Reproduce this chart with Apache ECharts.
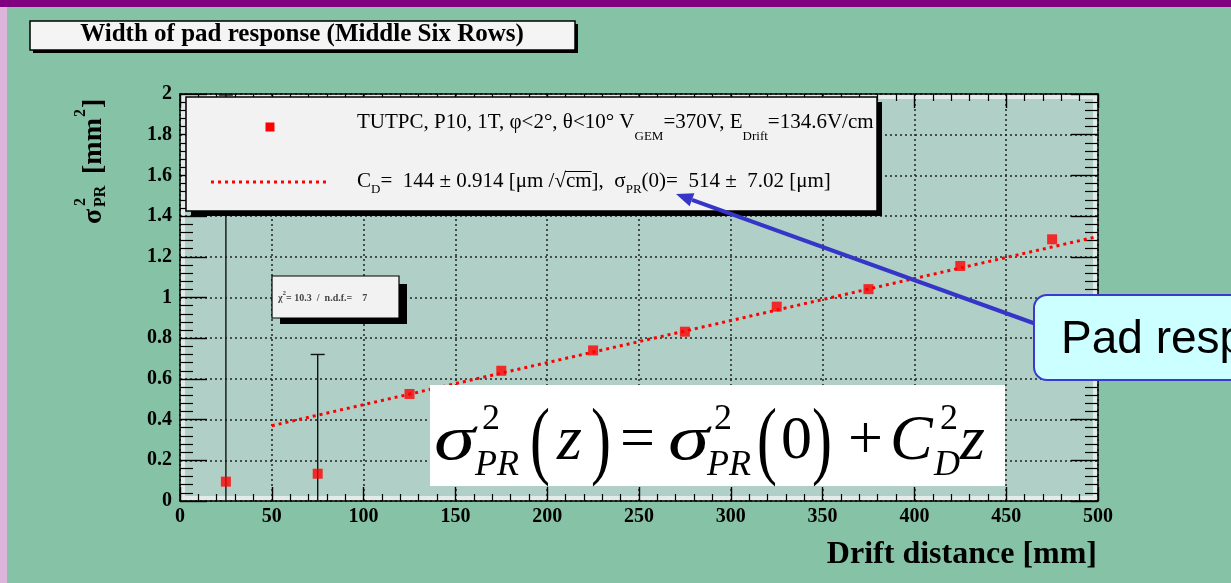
<!DOCTYPE html>
<html>
<head>
<meta charset="utf-8">
<title>Width of pad response (Middle Six Rows)</title>
<script src="https://cdn.jsdelivr.net/npm/echarts@6/dist/echarts.min.js"></script>
<style>
  html, body { margin: 0; padding: 0; background: #85c2a6; }
  #chart { width: 1231px; height: 583px; }
</style>
</head>
<body>
<div id="chart"></div>
<script>
// Measured pad-response width squared vs. drift distance
const driftMm   = [25, 75, 125, 175, 225, 275, 325, 375, 425, 475];
const sigmaSq   = [0.095, 0.134, 0.526, 0.640, 0.740, 0.832, 0.955, 1.041, 1.155, 1.286];
const sigmaErr  = [1.90, 0.586, 0.006, 0.006, 0.006, 0.006, 0.006, 0.006, 0.006, 0.006];

// Straight-line fit sigma^2(z) = sigma^2(0) + C_D^2 z, end points of the drawn range
const fitX = [50, 500];
const fitY = [0.37, 1.30];

// Axis ranges and tick spacing
const xRange = [0, 500], xStep = 50;
const yRange = [0, 2], yStep = 0.2;

const SERIF = '"Liberation Serif", "Times New Roman", serif';
const SANS = '"Liberation Sans", Arial, sans-serif';

// plot frame in pixels
const G = { left: 180, top: 94, width: 918, height: 407 };

const chart = echarts.init(document.getElementById('chart'), null, { renderer: 'canvas' });

const measureCtx = document.createElement('canvas').getContext('2d');
function textWidth(font, s) { measureCtx.font = font; return measureCtx.measureText(s).width; }

const axisCommon = {
  type: 'value',
  z: 3,
  axisLine: { show: true, onZero: false, lineStyle: { color: '#000', width: 1.5 } },
  splitLine: { show: false },
  axisLabel: { show: false }
};

const xBottom = Object.assign({}, axisCommon, {
  position: 'bottom', min: xRange[0], max: xRange[1], interval: xStep,
  axisTick: { show: true, inside: true, length: 14, lineStyle: { color: '#000', width: 1.4 } },
  minorTick: { show: true, splitNumber: 5, length: 7, lineStyle: { color: '#000', width: 1.2 } },
  splitLine: { show: true, lineStyle: { color: '#222', width: 1.5, type: [2, 3] } },
  axisLabel: { show: true, margin: 6, color: '#000', fontFamily: SERIF, fontWeight: 'bold', fontSize: 20 }
});
const xTop = Object.assign({}, axisCommon, {
  position: 'top', min: xRange[0], max: xRange[1], interval: xStep,
  axisTick: { show: true, inside: true, length: 14, lineStyle: { color: '#000', width: 1.4 } },
  minorTick: { show: true, splitNumber: 5, length: 7, lineStyle: { color: '#000', width: 1.2 } }
});
const yLeft = Object.assign({}, axisCommon, {
  position: 'left', min: yRange[0], max: yRange[1], interval: yStep,
  axisTick: { show: true, inside: true, length: 27, lineStyle: { color: '#000', width: 1.4 } },
  minorTick: { show: true, splitNumber: 5, length: 13, lineStyle: { color: '#000', width: 1.2 } },
  splitLine: { show: true, lineStyle: { color: '#222', width: 1.5, type: [2, 3] } },
  axisLabel: { show: true, margin: 8, color: '#000', fontFamily: SERIF, fontWeight: 'bold', fontSize: 20 }
});
const yRight = Object.assign({}, axisCommon, {
  position: 'right', min: yRange[0], max: yRange[1], interval: yStep,
  axisTick: { show: true, inside: true, length: 27, lineStyle: { color: '#000', width: 1.4 } },
  minorTick: { show: true, splitNumber: 5, length: 13, lineStyle: { color: '#000', width: 1.2 } }
});

// error bars drawn through the axis scales; bars shorter than the marker are hidden by it
function renderErrorBar(params, api) {
  const x = api.value(0), y = api.value(1), e = api.value(2);
  const hi = api.coord([x, y + e]);
  const lo = api.coord([x, y - e]);
  if (lo[1] - hi[1] < 12) return { type: 'group', children: [] };
  const cap = 7;
  const st = { stroke: '#111', lineWidth: 1.4 };
  return {
    type: 'group',
    children: [
      { type: 'line', shape: { x1: hi[0], y1: hi[1], x2: lo[0], y2: lo[1] }, style: st },
      { type: 'line', shape: { x1: hi[0] - cap, y1: hi[1], x2: hi[0] + cap, y2: hi[1] }, style: st },
      { type: 'line', shape: { x1: lo[0] - cap, y1: lo[1], x2: lo[0] + cap, y2: lo[1] }, style: st }
    ]
  };
}

// ---------- overlay text and boxes ----------
const graphics = [];

// slide border
graphics.push({ type: 'rect', z: 0, shape: { x: 0, y: 0, width: 1231, height: 7 }, style: { fill: '#800080' } });
graphics.push({ type: 'rect', z: 0, shape: { x: 0, y: 7, width: 7, height: 576 }, style: { fill: '#dcb5dc' } });

// light bevel inside the frame
graphics.push({ type: 'rect', z: 1, silent: true,
  shape: { x: G.left + 2.5, y: G.top + 2.5, width: G.width - 5, height: G.height - 5 },
  style: { fill: null, stroke: '#e3ece9', lineWidth: 5 } });

// title box
graphics.push({ type: 'rect', z: 10, shape: { x: 33, y: 24, width: 545, height: 29 }, style: { fill: '#000' } });
graphics.push({ type: 'rect', z: 11, shape: { x: 30, y: 21, width: 545, height: 29 }, style: { fill: '#f4f4f4', stroke: '#000', lineWidth: 1.5 } });
graphics.push({ type: 'text', z: 12, style: { text: 'Width of pad response (Middle Six Rows)', x: 302, y: 35,
  align: 'center', verticalAlign: 'middle', fontFamily: SERIF, fontWeight: 'bold', fontSize: 25, fill: '#000' } });

// legend box
const LG = { x: 186, y: 97, w: 691, h: 114 };
graphics.push({ type: 'rect', z: 10, shape: { x: LG.x + 5, y: LG.y + 5, width: LG.w, height: LG.h }, style: { fill: '#000' } });
graphics.push({ type: 'rect', z: 11, shape: { x: LG.x, y: LG.y, width: LG.w, height: LG.h }, style: { fill: '#f2f2f2', stroke: '#000', lineWidth: 1.5 } });
graphics.push({ type: 'rect', z: 12, shape: { x: 265.5, y: 122.5, width: 9, height: 9 }, style: { fill: '#ff0000' } });
graphics.push({ type: 'line', z: 12, shape: { x1: 211, y1: 182, x2: 329, y2: 182 }, style: { stroke: '#ff0000', lineWidth: 3, lineDash: [3, 4] } });

const LEG_FS = 21, LEG_SUB = 13;
graphics.push({ type: 'text', z: 12, style: {
  x: 357, y: 122, align: 'left', verticalAlign: 'middle',
  text: '{m|TUTPC, P10, 1T, φ<2°, θ<10° V}{s|GEM}{m|=370V, E}{s|Drift}{m|=134.6V/cm}',
  rich: {
    m: { fontFamily: SERIF, fontSize: LEG_FS, fill: '#000', lineHeight: 42 },
    s: { fontFamily: SERIF, fontSize: LEG_SUB, fill: '#000', lineHeight: 13, verticalAlign: 'bottom' }
  }
} });

const l2a = 'C', l2b = 'D', l2c = '=  144 ± 0.914 [μm /√', l2d = 'cm', l2e = '],  σ', l2f = 'PR', l2g = '(0)=  514 ±  7.02 [μm]';
graphics.push({ type: 'text', z: 12, style: {
  x: 357, y: 181, align: 'left', verticalAlign: 'middle',
  text: '{m|' + l2a + '}{s|' + l2b + '}{m|' + l2c + l2d + l2e + '}{s|' + l2f + '}{m|' + l2g + '}',
  rich: {
    m: { fontFamily: SERIF, fontSize: LEG_FS, fill: '#000', lineHeight: 31 },
    s: { fontFamily: SERIF, fontSize: LEG_SUB, fill: '#000', lineHeight: 13, verticalAlign: 'bottom' }
  }
} });
const fMain = LEG_FS + 'px ' + SERIF, fSub = LEG_SUB + 'px ' + SERIF;
const ovX = 357 + textWidth(fMain, l2a) + textWidth(fSub, l2b) + textWidth(fMain, l2c);
const ovW = textWidth(fMain, l2d);
graphics.push({ type: 'line', z: 12, shape: { x1: ovX - 1, y1: 171.5, x2: ovX + ovW, y2: 171.5 }, style: { stroke: '#000', lineWidth: 1 } });

// chi-square box
graphics.push({ type: 'rect', z: 10, shape: { x: 280, y: 284, width: 127, height: 40 }, style: { fill: '#000' } });
graphics.push({ type: 'rect', z: 11, shape: { x: 272, y: 276, width: 127, height: 42 }, style: { fill: '#f2f2f2', stroke: '#000', lineWidth: 1.2 } });
graphics.push({ type: 'text', z: 12, style: {
  x: 278, y: 298, align: 'left', verticalAlign: 'middle',
  text: '{m|χ}{u|2}{m|= 10.3  /  n.d.f.=    7}',
  rich: {
    m: { fontFamily: SERIF, fontWeight: 'bold', fontSize: 10, fill: '#444', lineHeight: 16 },
    u: { fontFamily: SERIF, fontWeight: 'bold', fontSize: 7, fill: '#444', lineHeight: 7, verticalAlign: 'top' }
  }
} });

// formula box
graphics.push({ type: 'rect', z: 10, shape: { x: 430, y: 385, width: 575, height: 101 }, style: { fill: '#ffffff' } });
function ftxt(s, x, y, size, italic, sx, sy) {
  graphics.push({ type: 'text', z: 12, x: x, y: y, scaleX: sx || 1, scaleY: sy || 1,
    style: { text: s, x: 0, y: 0, align: 'left', verticalAlign: 'middle',
      fontFamily: SERIF, fontSize: size, fontStyle: italic ? 'italic' : 'normal', fill: '#000' } });
}
const mainY = 442, supY = 420, subY = 466, parY = 445;
ftxt('σ', 434, mainY, 64, true, 1.3, 1);
ftxt('2', 482, supY, 36, false);
ftxt('PR', 475, subY, 36, true);
ftxt('(', 530, parY, 60, false, 1, 1.45);
ftxt('z', 557, mainY, 64, true);
ftxt(')', 591, parY, 60, false, 1, 1.45);
ftxt('=', 620, mainY, 62, false);
ftxt('σ', 668, mainY, 64, true, 1.3, 1);
ftxt('2', 714, supY, 36, false);
ftxt('PR', 707, subY, 36, true);
ftxt('(', 757, parY, 60, false, 1, 1.45);
ftxt('0', 781, mainY, 62, false);
ftxt(')', 812, parY, 60, false, 1, 1.45);
ftxt('+', 848, mainY, 62, false);
ftxt('C', 890, mainY, 64, true);
ftxt('2', 940, supY, 36, false);
ftxt('D', 934, subY, 36, true);
ftxt('z', 960, mainY, 64, true);

// arrow from the callout to the fit parameter
const tip = [676, 194], tail = [1036, 324];
(function () {
  const dx = tail[0] - tip[0], dy = tail[1] - tip[1];
  const L = Math.hypot(dx, dy), ux = dx / L, uy = dy / L;
  const hl = 17, hw = 7;
  const bx = tip[0] + ux * hl, by = tip[1] + uy * hl;
  graphics.push({ type: 'line', z: 14, shape: { x1: tail[0], y1: tail[1], x2: bx, y2: by }, style: { stroke: '#3535c8', lineWidth: 4 } });
  graphics.push({ type: 'polygon', z: 14, shape: { points: [tip, [bx - uy * hw, by + ux * hw], [bx + uy * hw, by - ux * hw]] }, style: { fill: '#3535c8' } });
})();

// callout
graphics.push({ type: 'rect', z: 15, shape: { x: 1034, y: 295, width: 230, height: 85, r: 13 }, style: { fill: '#ccffff', stroke: '#3a3ad0', lineWidth: 2 } });
graphics.push({ type: 'text', z: 16, style: { text: 'Pad response', x: 1061, y: 340, align: 'left', verticalAlign: 'middle',
  fontFamily: SANS, fontSize: 46, fill: '#000' } });

// axis titles
graphics.push({ type: 'text', z: 12, style: { text: 'Drift distance [mm]', x: 1097, y: 555, align: 'right', verticalAlign: 'middle',
  fontFamily: SERIF, fontWeight: 'bold', fontSize: 32, fill: '#000' } });

const yTitleParts = [
  { t: 'σ', x: 0, y: -9, s: 28 },
  { t: '2', x: 18, y: -22, s: 16 },
  { t: 'PR', x: 17, y: -2, s: 16 },
  { t: '[mm', x: 50, y: -9, s: 28 },
  { t: '2', x: 107, y: -22, s: 16 },
  { t: ']', x: 116, y: -9, s: 28 }
];
graphics.push({
  type: 'group', z: 12, x: 103, y: 224, rotation: Math.PI / 2,
  children: yTitleParts.map(p => ({ type: 'text', z: 12, style: { text: p.t, x: p.x, y: p.y, align: 'left', verticalAlign: 'middle',
    fontFamily: SERIF, fontWeight: 'bold', fontSize: p.s, fill: '#000' } }))
});

const option = {
  animation: false,
  backgroundColor: '#85c2a6',
  grid: { left: G.left, top: G.top, width: G.width, height: G.height, show: true, backgroundColor: '#b0cfc7', borderWidth: 0 },
  xAxis: [xBottom, xTop],
  yAxis: [yLeft, yRight],
  series: [
    {
      name: 'fit', type: 'line', z: 4, symbol: 'none', silent: true,
      data: fitX.map((x, i) => [x, fitY[i]]),
      lineStyle: { color: '#ff0000', width: 3, type: [3, 4] }
    },
    {
      name: 'errors', type: 'custom', z: 5, clip: true, silent: true,
      renderItem: renderErrorBar,
      data: driftMm.map((x, i) => [x, sigmaSq[i], sigmaErr[i]])
    },
    {
      name: 'data', type: 'scatter', z: 6, symbol: 'rect', symbolSize: 10,
      itemStyle: { color: '#ff0000' },
      data: driftMm.map((x, i) => [x, sigmaSq[i]])
    }
  ],
  graphic: { elements: graphics }
};
chart.setOption(option);
</script>
</body>
</html>
